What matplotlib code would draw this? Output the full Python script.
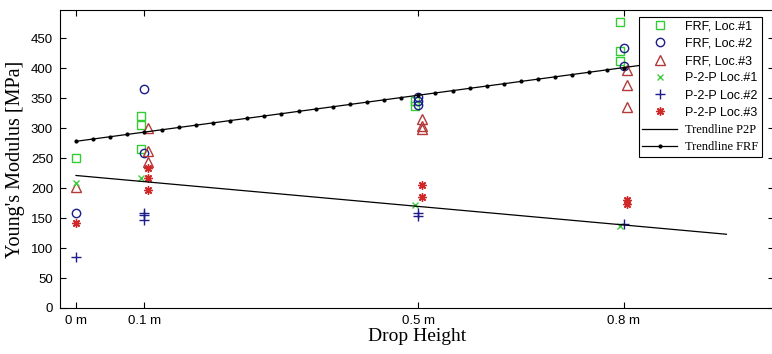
import numpy as np
import matplotlib
matplotlib.use("Agg")
import matplotlib.pyplot as plt

# Drop heights [m] and measured Young's modulus [MPa], one list per series
frf1_h = [0.0, 0.1, 0.1, 0.1, 0.5, 0.5, 0.8, 0.8, 0.8]
frf1_E = [250, 320, 305, 266, 345, 337, 477, 429, 412]

frf2_h = [0.0, 0.1, 0.1, 0.5, 0.5, 0.5, 0.8, 0.8]
frf2_E = [158, 366, 258, 352, 345, 338, 434, 404]

frf3_h = [0.0, 0.1, 0.1, 0.1, 0.5, 0.5, 0.5, 0.8, 0.8, 0.8]
frf3_E = [201, 300, 262, 244, 316, 303, 299, 397, 372, 336]

p2p1_h = [0.0, 0.1, 0.5, 0.8]
p2p1_E = [209, 216, 172, 137]

p2p2_h = [0.0, 0.1, 0.1, 0.1, 0.5, 0.5, 0.8]
p2p2_E = [85, 159, 155, 146, 159, 153, 140]

p2p3_h = [0.0, 0.1, 0.1, 0.1, 0.5, 0.5, 0.8, 0.8]
p2p3_E = [141, 234, 216, 197, 205, 185, 180, 174]

# Trendline end points
trend_h = [0.0, 0.95]
trend_p2p = [221, 123]
trend_frf = [278, 424]

tick_pos = [0, 0.1, 0.5, 0.8]
tick_labels = ['0 m', '0.1 m', '0.5 m', '0.8 m']

# small sideways shift so the three locations don't sit on top of each other
shift = {1: -0.005, 2: 0.0, 3: 0.005}


def shifted(h, loc):
    return [x + shift[loc] if x > 0 else x for x in h]


fig = plt.figure(figsize=(7.72, 3.54), dpi=100)
ax = fig.add_axes([60 / 772, 46 / 354, 714 / 772, 298 / 354])

ms = 5.5
asterisk = (8, 2, 0)  # matlab style '*' (plus + cross)
ax.plot(shifted(frf1_h, 1), frf1_E, 's', mfc='none', mec='#33cc33', ms=ms, mew=1.0, label='FRF, Loc.#1')
ax.plot(shifted(frf2_h, 2), frf2_E, 'o', mfc='none', mec='#1c1c8a', ms=ms + 0.5, mew=1.0, label='FRF, Loc.#2')
ax.plot(shifted(frf3_h, 3), frf3_E, '^', mfc='none', mec='#b33a3a', ms=ms + 1, mew=1.0, label='FRF, Loc.#3')
ax.plot(shifted(p2p1_h, 1), p2p1_E, 'x', color='#44cc44', ms=4, mew=1.0, label='P-2-P Loc.#1')
ax.plot(shifted(p2p2_h, 2), p2p2_E, '+', color='#1c1c8a', ms=6.5, mew=1.0, label='P-2-P Loc.#2')
ax.plot(shifted(p2p3_h, 3), p2p3_E, marker=asterisk, ls='none', color='#d02828', ms=6, mew=1.0,
        label='P-2-P Loc.#3')

ax.plot(trend_h, trend_p2p, '-', color='black', lw=0.9, label='Trendline P2P')
dots_h = np.linspace(trend_h[0], trend_h[1], 39)
ax.plot(dots_h, np.interp(dots_h, trend_h, trend_frf), '-', color='black', lw=0.9,
        marker='.', ms=4, label='Trendline FRF')

ax.set_xlim(-0.0234, 1.0195)
ax.set_ylim(0, 497)
ax.set_xticks(tick_pos)
ax.set_xticklabels(tick_labels)
ax.set_yticks(range(0, 451, 50))
ax.tick_params(direction='in', top=True, right=True, length=4, width=0.8,
               labelsize=9.5, pad=5)
for lab in ax.get_xticklabels() + ax.get_yticklabels():
    lab.set_family('Liberation Sans')
for s in ax.spines.values():
    s.set_linewidth(0.8)

ax.set_xlabel('Drop Height', family='Liberation Serif', fontsize=14, labelpad=1)
ax.set_ylabel("Young's Modulus [MPa]", family='Liberation Serif', fontsize=14.5, labelpad=4)

leg = ax.legend(loc='upper right', bbox_to_anchor=(0.983, 0.977), borderaxespad=0,
                fancybox=False, edgecolor='black', framealpha=1, fontsize=9,
                handlelength=2.8, handletextpad=0.6, labelspacing=0.42,
                borderpad=0.3)
leg.get_frame().set_linewidth(0.8)
for i, t in enumerate(leg.get_texts()):
    t.set_family('Liberation Serif' if i >= 6 else 'Liberation Sans')

fig.savefig('out.png', dpi=100)
